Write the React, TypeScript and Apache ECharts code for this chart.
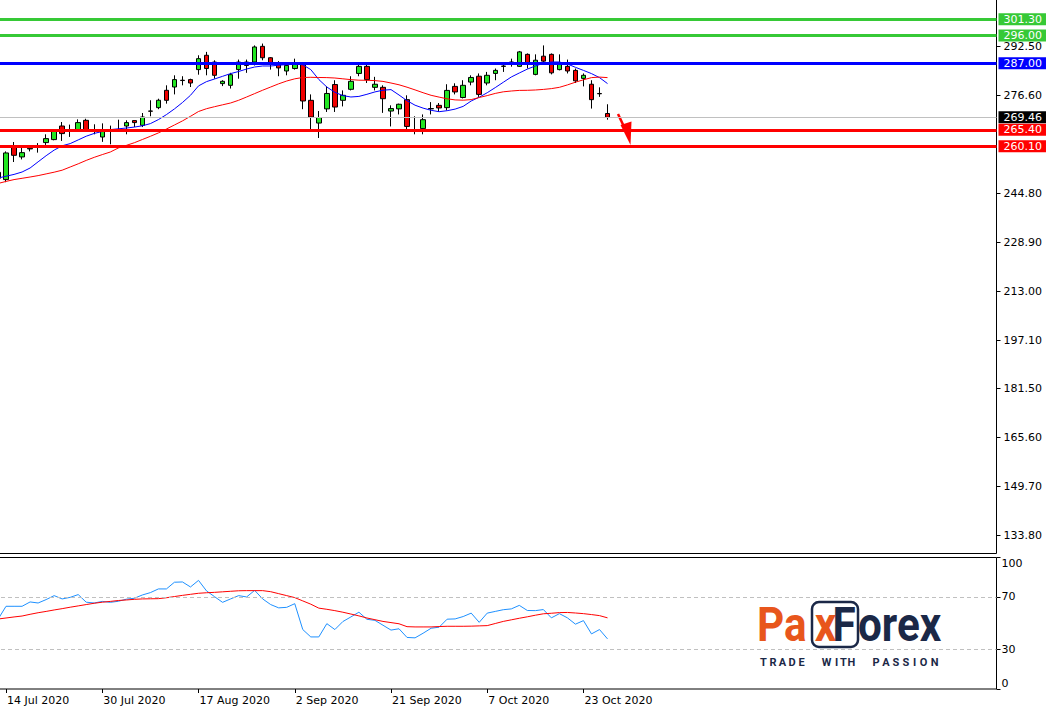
import React, { useEffect, useRef } from "react";
import * as echarts from "echarts";

// ---------- data ----------
const julDays = [13, 14, 15, 16, 17, 20, 21, 22, 23, 24, 27, 28, 29, 30, 31];
const augDays = [3, 4, 5, 6, 7, 10, 11, 12, 13, 14, 17, 18, 19, 20, 21, 24, 25, 26, 27, 28, 31];
const sepDays = [1, 2, 3, 4, 8, 9, 10, 11, 14, 15, 16, 17, 18, 21, 22, 23, 24, 25, 28, 29, 30];
const octDays = [1, 2, 5, 6, 7, 8, 9, 12, 13, 14, 15, 16, 19, 20, 21, 22, 23, 26, 27, 28];

const dates: string[] = [
  ...julDays.map((d) => `${d} Jul 2020`),
  ...augDays.map((d) => `${d} Aug 2020`),
  ...sepDays.map((d) => `${d} Sep 2020`),
  ...octDays.map((d) => `${d} Oct 2020`),
];

const opens = [
  251.6, 249.25, 260.05, 256.6, 259.2, 259.8, 261.26, 262.23, 266.64, 265.5,
  265.47, 268.49, 265.4, 263.07, 265.3, 265.4, 266.64, 268.4, 266.87, 271.5,
  272.6, 278.23, 279.3, 281.5, 281.7, 284.95, 289.6, 287.4, 280.4, 279.85,
  284.95, 287.4, 287.4, 292.5, 288.8, 286.9, 284.5, 285.3, 287.1, 274.98,
  267.6, 272.2, 280.1, 274.98, 278.55, 283.7, 286.0, 279.2, 279.2, 271.5,
  272.2, 275.2, 265.5, 265.8, 272.2, 273.35, 272.6, 279.5, 275.9, 280.9,
  282.8, 280.6, 283.7, 286.0, 287.3, 286.0, 289.9, 283.4, 289.3, 289.9,
  284.95, 286.0, 284.7, 282.1, 280.2, 277.2, 270.7,
];
const closes = [
  249.7, 257.9, 257.13, 258.0, 259.4, 259.7, 262.55, 265.25, 264.18, 265.3,
  267.75, 265.02, 264.9, 265.02, 265.2, 265.5, 267.75, 267.75, 269.57, 271.45,
  275.0, 274.98, 281.7, 281.4, 280.6, 288.5, 285.3, 283.1, 281.15, 283.3,
  287.4, 286.3, 292.3, 288.8, 286.6, 285.5, 286.3, 287.2, 274.76, 269.56,
  269.4, 277.2, 272.8, 276.6, 281.15, 286.0, 281.7, 280.2, 275.5, 272.3,
  273.7, 266.5, 265.3, 268.7, 272.3, 272.5, 278.2, 277.7, 279.85, 282.4,
  276.9, 283.1, 284.7, 286.1, 287.4, 290.7, 287.1, 288.0, 287.7, 283.9,
  286.9, 284.5, 281.3, 283.1, 275.2, 277.1, 269.46,
];
const lows = [
  249.2, 248.4, 254.96, 255.8, 258.4, 258.0, 260.5, 262.0, 261.8, 263.1,
  265.25, 264.7, 263.95, 261.5, 260.7, 265.25, 263.95, 266.3, 266.3, 269.8,
  272.1, 273.9, 276.9, 279.85, 279.3, 283.3, 283.1, 282.0, 279.6, 278.8,
  282.0, 283.9, 286.3, 287.97, 284.95, 282.8, 283.1, 284.95, 272.1, 264.7,
  262.75, 271.2, 271.2, 273.0, 278.2, 282.8, 280.6, 278.2, 270.9, 266.5,
  270.4, 264.7, 263.95, 263.95, 270.4, 271.2, 271.75, 276.9, 275.6, 279.85,
  276.1, 279.85, 281.5, 284.2, 285.9, 285.8, 285.3, 283.1, 287.1, 283.4,
  284.7, 283.7, 280.6, 279.5, 272.3, 276.1, 268.7,
];
const highs = [
  252.0, 258.4, 261.45, 259.6, 260.4, 261.1, 263.95, 265.5, 267.94, 267.1,
  268.8, 269.0, 267.2, 267.5, 266.77, 268.7, 268.5, 268.5, 270.86, 275.0,
  275.5, 279.85, 283.1, 282.8, 282.0, 289.6, 290.7, 287.97, 281.5, 283.9,
  288.2, 288.2, 292.8, 293.4, 289.0, 287.7, 287.4, 288.5, 287.4, 276.9,
  271.5, 279.5, 281.5, 278.2, 282.8, 286.9, 286.6, 282.6, 279.85, 273.35,
  273.9, 276.6, 269.8, 270.4, 274.4, 274.1, 280.2, 280.5, 281.5, 283.1,
  283.7, 284.2, 285.3, 287.4, 288.5, 291.0, 290.2, 289.9, 292.8, 290.2,
  289.9, 288.2, 285.3, 283.7, 281.5, 279.2, 273.7,
];

const maFast = [
  249.73, 250.35, 250.93, 251.71, 253.01, 255.02, 257.0, 258.82, 260.22, 260.93,
  262.13, 263.33, 264.24, 264.86, 265.47, 265.73, 265.99, 266.29, 266.71, 267.42,
  268.72, 270.34, 272.19, 274.27, 276.61, 279.66, 281.05, 281.9, 282.77, 283.65,
  284.33, 285.14, 285.79, 286.12, 286.12, 286.38, 286.57, 286.77, 286.51, 284.95,
  281.74, 279.3, 277.58, 276.51, 276.06, 276.25, 276.93, 277.71, 278.26, 278.46,
  276.71, 274.86, 273.39, 272.45, 271.74, 271.29, 271.61, 272.13, 273.01, 274.76,
  275.99, 277.45, 279.11, 280.83, 282.55, 283.85, 285.11, 286.12, 286.99, 287.42,
  287.42, 286.77, 285.69, 284.69, 283.65, 282.35, 280.41,
];
const maSlow = [
  247.98, 248.66, 249.25, 249.67, 250.09, 250.54, 251.1, 251.65, 252.3, 253.34,
  254.37, 255.48, 256.48, 257.36, 258.2, 259.5, 260.35, 261.22, 262.26, 263.3,
  264.4, 265.67, 266.97, 268.3, 269.79, 271.35, 272.26, 272.91, 273.52, 274.11,
  274.99, 276.06, 277.16, 278.26, 279.3, 280.34, 281.25, 281.96, 282.39, 282.45,
  282.39, 282.35, 282.22, 281.96, 281.7, 281.51, 281.48, 281.38, 281.12, 280.6,
  280.02, 279.24, 278.36, 277.45, 276.61, 276.02, 275.47, 275.11, 275.02, 275.21,
  275.89, 276.51, 277.22, 277.74, 278.0, 278.2, 278.23, 278.33, 278.52, 278.78,
  279.2, 279.98, 280.86, 281.64, 282.35, 282.52, 282.35,
];

const rsi = [
  53, 62.9, 62.9, 62.9, 66.2, 65.4, 68, 71, 68.5, 69.7,
  71.8, 66, 65.4, 66.6, 65.9, 66.7, 68.3, 69, 71.5, 73.3,
  76.1, 76.1, 81.2, 81.4, 77.6, 82.6, 74.6, 70.2, 65.9, 68.5,
  71, 70, 75, 68.5, 64.2, 61.7, 62.1, 64.9, 45.2, 39.6,
  39.6, 49.7, 45.2, 51.3, 54.8, 58.4, 53, 52.2, 48.5, 44.8,
  45.8, 39.2, 38.9, 42.4, 46.2, 47, 53.1, 53.3, 55.1, 57.7,
  50.7, 57.7, 59, 60.3, 60.9, 63.6, 59.7, 59.6, 60.4, 54.1,
  57.3, 54.1, 49.3, 52, 41.9, 45.2, 38.1,
];
const rsiSignal = [
  53.2, 54, 54.8, 55.5, 56.8, 58, 59, 60.1, 61.1, 62.2,
  63.2, 64.2, 65.2, 66, 66.6, 67.3, 67.7, 68.2, 68.5, 68.6,
  68.7, 69.4, 70.3, 71.2, 72, 72.8, 73.2, 73.5, 73.9, 74.3,
  74.7, 74.8, 74.8, 74.8, 74, 72.5, 71, 69.5, 67, 64.5,
  61.5, 60.6, 59.6, 58.4, 57, 55.6, 54, 52.7, 51.4, 50.5,
  49.6, 47.4, 47.2, 47.2, 47.2, 47.5, 47.7, 47.7, 47.7, 47.8,
  48, 48.2, 49.8, 51.4, 52.6, 53.8, 54.9, 56.1, 57.2, 57.6,
  58.1, 58.2, 57.8, 57.3, 56.6, 55.8, 54.1,
];

const dateTicks = [
  "14 Jul 2020", "30 Jul 2020", "17 Aug 2020", "2 Sep 2020",
  "21 Sep 2020", "7 Oct 2020", "23 Oct 2020",
];
const priceTicks = [133.8, 149.7, 165.6, 181.5, 197.1, 213.0, 228.9, 244.8, 276.6, 292.5];
const rsiTicks = [0, 30, 70, 100];
const resistanceLevels = [301.3, 296.0];
const pivotLevels = [287.0];
const supportLevels = [265.4, 260.1];
const lastPrice = 269.46;
const rsiBands = [30, 70];

// ---------- styles ----------
const FONT = "DejaVu Sans";
const GREEN_LVL = "#36c936";
const BLUE_LVL = "#0000ff";
const RED_LVL = "#ff0000";
const UP = "#22e622";
const DOWN = "#f00000";
const NAVY = "#1b2847";
const ORANGE = "#e8561c";

// the chart canvas is shifted so that the plot starts left of / above the page edge
const OX = 6;
const OY = 2;

const tagline: [string, number][] = [
  ["T", 763.5], ["R", 773], ["A", 782.5], ["D", 792], ["E", 801.5],
  ["W", 826.5], ["I", 836.5], ["T", 843.5], ["H", 851.5],
  ["P", 876], ["A", 886], ["S", 896], ["S", 906], ["I", 914.5], ["O", 923.5], ["N", 934.5],
];

export default function App() {
  const ref = useRef<HTMLDivElement>(null);
  useEffect(() => {
    if (!ref.current) return;
    const chart = echarts.init(ref.current, undefined, { renderer: "svg" });

    const levelItem = (v: number, color: string, bg: string, width: number) => ({
      yAxis: v,
      lineStyle: { color, width, type: "solid" },
      label: { backgroundColor: bg },
    });

    const showDate = (_i: number, v: string) => !!v && dateTicks.includes(v);
    const logoFont = "bold 48px Roboto";

    const option: any = {
      animation: false,
      grid: [
        { left: 0, right: 53.5, top: 0, height: 555.5, show: true, borderColor: "#000", borderWidth: 1, backgroundColor: "transparent" },
        { left: 0, right: 53.5, top: 557.5 + OY, height: 132, show: true, borderColor: "#000", borderWidth: 1, backgroundColor: "transparent" },
      ],
      xAxis: [
        {
          type: "category", gridIndex: 0, data: dates, max: 124, boundaryGap: true,
          axisLine: { show: false }, axisTick: { show: false }, axisLabel: { show: false }, splitLine: { show: false },
        },
        {
          type: "category", gridIndex: 1, data: dates, max: 124, boundaryGap: true,
          axisLine: { show: false },
          axisTick: { show: true, alignWithLabel: true, interval: showDate, length: 4, lineStyle: { color: "#000" } },
          axisLabel: { interval: showDate, align: "left", margin: 6, padding: [0, 0, 0, 1], fontFamily: FONT, fontSize: 11, color: "#000" },
          splitLine: { show: false },
        },
      ],
      yAxis: [
        {
          type: "value", gridIndex: 0, position: "right", min: 127.89, max: 308.19,
          axisLine: { show: false },
          axisTick: { show: true, customValues: priceTicks, length: 4, lineStyle: { color: "#000" } },
          axisLabel: { customValues: priceTicks, formatter: (v: number) => v.toFixed(2), margin: 7, fontFamily: FONT, fontSize: 11, color: "#000" },
          splitLine: { show: false },
        },
        {
          type: "value", gridIndex: 1, position: "right", min: 0, max: 100,
          axisLine: { show: false },
          axisTick: { show: true, customValues: rsiTicks, length: 4, lineStyle: { color: "#000" } },
          axisLabel: {
            customValues: rsiTicks, margin: 5, fontFamily: FONT, fontSize: 11, color: "#000",
            verticalAlignMinLabel: "bottom", verticalAlignMaxLabel: "top",
          },
          splitLine: { show: false },
        },
      ],
      series: [
        {
          type: "candlestick", xAxisIndex: 0, yAxisIndex: 0, barWidth: 5,
          data: dates.map((_, i) => [opens[i], closes[i], lows[i], highs[i]]),
          itemStyle: { color: UP, color0: DOWN, borderColor: "#000", borderColor0: "#000", borderColorDoji: "#000", borderWidth: 1 },
          emphasis: { disabled: true },
          markLine: {
            symbol: ["none", "none"], silent: true, animation: false,
            emphasis: { disabled: true },
            label: {
              show: true, position: "end", distance: 2,
              formatter: (p: any) => Number(p.value).toFixed(2),
              color: "#fff", fontFamily: FONT, fontSize: 11, lineHeight: 12, padding: [0, 4, 0, 5],
            },
            data: [
              levelItem(lastPrice, "#c0c0c0", "#000", 1),
              ...resistanceLevels.map((v) => levelItem(v, GREEN_LVL, GREEN_LVL, 3)),
              ...pivotLevels.map((v) => levelItem(v, BLUE_LVL, BLUE_LVL, 3)),
              ...supportLevels.map((v) => levelItem(v, RED_LVL, RED_LVL, 3)),
            ],
          },
        },
        {
          type: "line", xAxisIndex: 0, yAxisIndex: 0, data: maFast, symbol: "none", silent: true,
          lineStyle: { color: "#0000ff", width: 1 },
        },
        {
          type: "line", xAxisIndex: 0, yAxisIndex: 0, data: maSlow, symbol: "none", silent: true,
          lineStyle: { color: "#ff0000", width: 1 },
        },
        {
          type: "line", xAxisIndex: 1, yAxisIndex: 1, data: rsi, symbol: "none", silent: true,
          lineStyle: { color: "#1e90ff", width: 1 },
          markLine: {
            symbol: ["none", "none"], silent: true, animation: false, label: { show: false },
            lineStyle: { color: "#c0c0c0", width: 1, type: [4, 3] },
            emphasis: { disabled: true },
            data: rsiBands.map((v) => ({ yAxis: v })),
          },
        },
        {
          type: "line", xAxisIndex: 1, yAxisIndex: 1, data: rsiSignal, symbol: "none", silent: true,
          lineStyle: { color: "#ff0000", width: 1 },
        },
      ],
      graphic: [
        {
          type: "group", x: OX, y: OY, silent: true,
          children: [
            { type: "line", shape: { x1: 618, y1: 114, x2: 626.5, y2: 132 }, style: { stroke: RED_LVL, lineWidth: 2.5 } },
            { type: "polygon", shape: { points: [[620.5, 125], [631.5, 121.5], [630.5, 145]] }, style: { fill: RED_LVL } },
            { type: "rect", shape: { x: 812, y: 602, width: 46, height: 45, r: 7 }, style: { fill: "none", stroke: NAVY, lineWidth: 2.5 } },
            { type: "text", x: 757, y: 625, scaleX: 0.88, style: { text: "Pa", fill: ORANGE, font: logoFont, verticalAlign: "middle" } },
            { type: "text", x: 825.5, y: 625, scaleX: 0.88, style: { text: "x", fill: ORANGE, font: logoFont, align: "center", verticalAlign: "middle" } },
            { type: "text", x: 844, y: 625, scaleX: 0.88, style: { text: "F", fill: NAVY, font: logoFont, align: "center", verticalAlign: "middle" } },
            { type: "text", x: 858, y: 625, scaleX: 0.88, style: { text: "orex", fill: NAVY, font: logoFont, verticalAlign: "middle" } },
            ...tagline.map(([ch, cx]) => ({
              type: "text", x: cx, y: 662,
              style: { text: ch, fill: NAVY, font: "bold 11px Roboto", align: "center", verticalAlign: "middle" },
            })),
          ],
        },
      ],
    };

    chart.setOption(option);
    return () => chart.dispose();
  }, []);

  return (
    <div
      ref={ref}
      style={{ position: "fixed", left: -OX, top: -OY, width: 1050 + OX, height: 706 + OY, background: "#fff" }}
    />
  );
}
